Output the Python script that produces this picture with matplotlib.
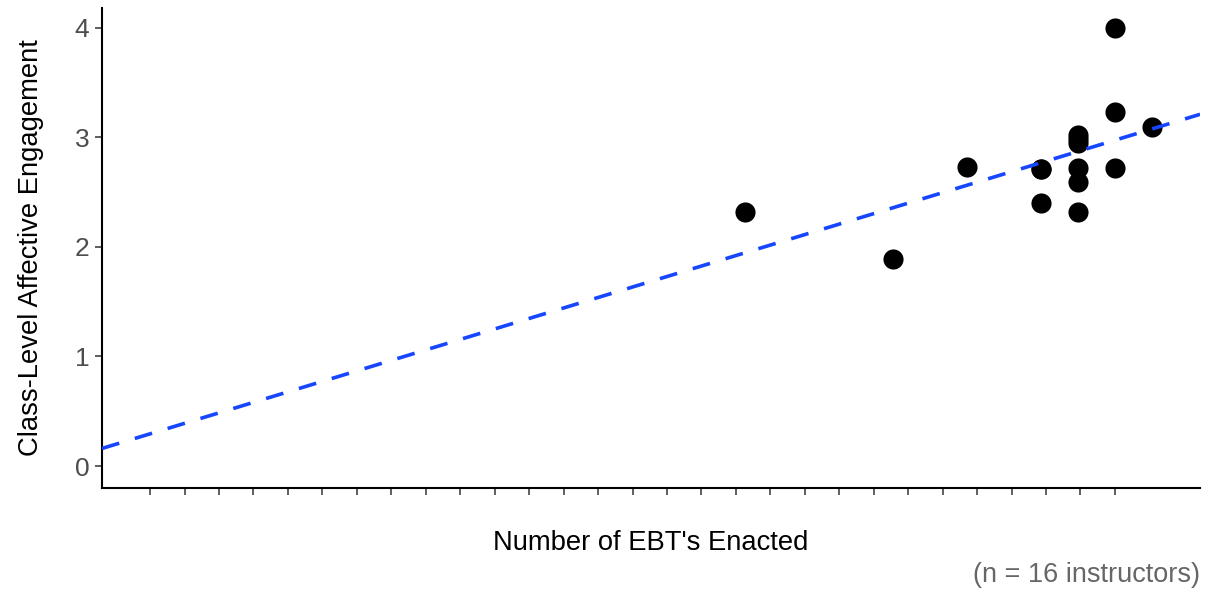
import numpy as np
import matplotlib.pyplot as plt

plt.rcParams['font.family'] = ['Liberation Sans', 'DejaVu Sans']

# number of EBT's enacted per instructor (axis labels hidden in the original)
ebt = [18, 22, 24, 26, 26, 27, 27, 27, 27, 27, 27, 28, 28, 28, 29, 26]
engagement = [2.32, 1.89, 2.73, 2.71, 2.40, 3.02, 2.95, 2.72, 2.59, 2.32, 2.98,
              4.00, 3.23, 2.72, 3.09, 2.71]

x = np.array(ebt, dtype=float)
y = np.array(engagement)

fig = plt.figure(figsize=(12.14, 5.9), dpi=100)
ax = fig.add_axes([0.084, 0.173, 0.9045, 0.8136])

xlim = (0.62, 30.3)
ax.set_xlim(*xlim)
ax.set_ylim(-0.2, 4.18)

# linear fit, drawn across the whole range
slope, intercept = np.polyfit(x, y, 1)
xs = np.array(xlim)
ax.plot(xs, intercept + slope * xs, color='#1646FF', lw=2.6, dashes=(5, 4.5), zorder=3)

ax.scatter(x, y, s=210, color='black', zorder=2, linewidths=0)

ax.set_yticks([0, 1, 2, 3, 4])
ax.set_xticks(np.linspace(1.92, 28, 29))
ax.set_xticklabels([])
ax.tick_params(axis='y', labelsize=19, labelcolor='#4D4D4D', color='#333333',
               length=5, width=1.1, pad=4)
ax.tick_params(axis='x', color='#333333', length=5, width=1.1)

for s in ['top', 'right']:
    ax.spines[s].set_visible(False)
for s in ['left', 'bottom']:
    ax.spines[s].set_linewidth(1.5)
    ax.spines[s].set_color('black')

ax.set_xlabel("Number of EBT's Enacted", fontsize=19.7, labelpad=22)
ax.set_ylabel('Class-Level Affective Engagement', fontsize=19.7, labelpad=22)

fig.text(0.9885, 0.025, '(n = 16 instructors)', ha='right', va='center',
         fontsize=19.5, color='#666666')

fig.savefig('out.png', dpi=100)
